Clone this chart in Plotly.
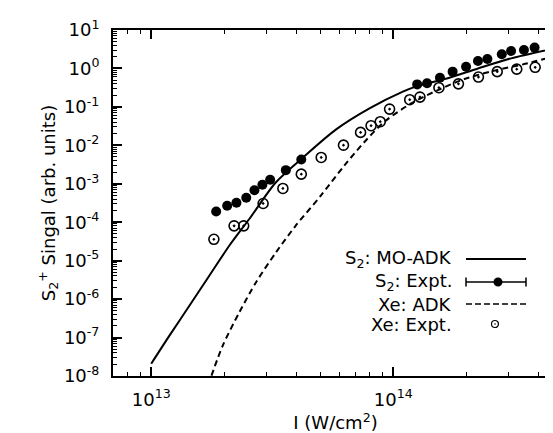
import plotly.graph_objects as go

# ---------------- data ----------------
s2_expt_I = [1.855e13, 2.06e13, 2.25e13, 2.47e13, 2.67e13, 2.88e13, 3.1e13, 3.6e13, 4.17e13,
             1.256e14, 1.38e14, 1.56e14, 1.76e14, 2.0e14, 2.24e14, 2.45e14, 2.81e14, 3.07e14,
             3.47e14, 3.84e14]
s2_expt_S = [1.9e-4, 2.67e-4, 3.2e-4, 4.35e-4, 6.8e-4, 9.4e-4, 1.27e-3, 2.26e-3, 4.3e-3,
             0.385, 0.41, 0.575, 0.826, 1.11, 1.56, 1.76, 2.33, 2.84, 3.01, 3.48]

xe_expt_I = [1.815e13, 2.2e13, 2.41e13, 2.9e13, 3.5e13, 4.17e13, 5.04e13, 6.23e13, 7.33e13,
             8.1e13, 8.84e13, 9.66e13, 1.17e14, 1.29e14, 1.545e14, 1.86e14, 2.25e14, 2.69e14,
             3.24e14, 3.86e14]
xe_expt_S = [3.6e-5, 8.05e-5, 8.05e-5, 3.07e-4, 7.55e-4, 1.78e-3, 4.84e-3, 1.01e-2, 2.17e-2,
             3.24e-2, 4.12e-2, 8.77e-2, 0.154, 0.18, 0.316, 0.397, 0.597, 0.826, 0.96, 1.07]

s2_adk_I = [1.0e13, 1.191e13, 1.442e13, 1.743e13, 2.108e13, 2.551e13, 3.27e13, 4.24e13, 5.81e13,
            7.98e13, 1.096e14, 1.265e14, 1.63e14, 2.24e14, 3.07e14, 4.8e14]
s2_adk_S = [2.09e-8, 1.14e-7, 6.9e-7, 4.17e-6, 2.52e-5, 1.25e-4, 1.08e-3, 4.84e-3, 2.6e-2,
            9.14e-2, 0.249, 0.352, 0.53, 1.0, 1.83, 3.48]

xe_adk_I = [1.774e13, 1.977e13, 2.317e13, 2.716e13, 3.288e13, 3.93e13, 5.04e13, 6.3e13, 7.62e13,
            9.2e13, 1.186e14, 1.53e14, 1.97e14, 2.62e14, 3.6e14, 4.8e14]
xe_adk_S = [1.02e-8, 6.27e-8, 4.65e-7, 2.8e-6, 1.69e-5, 7.73e-5, 5.05e-4, 3.05e-3, 1.24e-2,
            4.12e-2, 0.123, 0.274, 0.53, 0.877, 1.36, 2.23]

y_tickvals = [1e-8, 1e-7, 1e-6, 1e-5, 1e-4, 1e-3, 1e-2, 1e-1, 1e0, 1e1]
y_ticktext = ["10<sup>-8</sup>", "10<sup>-7</sup>", "10<sup>-6</sup>", "10<sup>-5</sup>",
              "10<sup>-4</sup>", "10<sup>-3</sup>", "10<sup>-2</sup>", "10<sup>-1</sup>",
              "10<sup>0</sup>", "10<sup>1</sup>"]
x_tickvals = [1e13, 1e14]
x_ticktext = ["10<sup>13</sup>", "10<sup>14</sup>"]

legend_labels = ["S<sub>2</sub>: MO-ADK", "S<sub>2</sub>: Expt.", "Xe: ADK", "Xe: Expt."]

# ---------------- figure ----------------
FONT = "DejaVu Sans, Liberation Sans, Arial, sans-serif"
FS = 18
W, H = 553, 433
L, R, T, B = 105, 3, 22, 65
PW, PH = W - L - R, H - T - B

fig = go.Figure()
fig.add_trace(go.Scatter(x=s2_adk_I, y=s2_adk_S, mode="lines",
                         line=dict(color="black", width=2, shape="spline", smoothing=0.8),
                         name=legend_labels[0], showlegend=False))
fig.add_trace(go.Scatter(x=xe_adk_I, y=xe_adk_S, mode="lines",
                         line=dict(color="black", width=2, dash="6px,4px", shape="spline", smoothing=0.8),
                         name=legend_labels[2], showlegend=False))
fig.add_trace(go.Scatter(x=s2_expt_I, y=s2_expt_S, mode="markers",
                         marker=dict(symbol="circle", size=10, color="black"),
                         name=legend_labels[1], showlegend=False))
fig.add_trace(go.Scatter(x=xe_expt_I, y=xe_expt_S, mode="markers",
                         marker=dict(symbol="circle-open-dot", size=10, color="black", line=dict(width=1.6)),
                         name=legend_labels[3], showlegend=False))

# manual legend (text left of sample, as in the original)
def px(x):
    return (x - L) / PW

def py(y):
    return (H - B - y) / PH

rows_y = [251, 274, 296, 316]
text_x = 446
for lab, yy in zip(legend_labels, rows_y):
    fig.add_annotation(x=px(text_x), y=py(yy), xref="paper", yref="paper", text=lab, showarrow=False,
                       xanchor="right", yanchor="middle", font=dict(family=FONT, size=FS, color="black"))

lx0, lx1 = px(458), px(518)
fig.add_shape(type="line", xref="paper", yref="paper", x0=lx0, x1=lx1, y0=py(rows_y[0]), y1=py(rows_y[0]),
              line=dict(color="black", width=2))
fig.add_shape(type="line", xref="paper", yref="paper", x0=lx0, x1=lx1, y0=py(rows_y[1]), y1=py(rows_y[1]),
              line=dict(color="black", width=1.5))
for cx in (lx0, lx1):
    fig.add_shape(type="line", xref="paper", yref="paper", x0=cx, x1=cx,
                  y0=py(rows_y[1] - 4.5), y1=py(rows_y[1] + 4.5), line=dict(color="black", width=1.5))
fig.add_shape(type="circle", xref="paper", yref="paper", xsizemode="pixel", ysizemode="pixel",
              xanchor=px(490), yanchor=py(rows_y[1]), x0=-4.5, x1=4.5, y0=-4.5, y1=4.5,
              fillcolor="black", line=dict(color="black", width=0))
fig.add_shape(type="line", xref="paper", yref="paper", x0=lx0, x1=lx1, y0=py(rows_y[2]), y1=py(rows_y[2]),
              line=dict(color="black", width=1.5, dash="6px,3px"))
fig.add_shape(type="circle", xref="paper", yref="paper", xsizemode="pixel", ysizemode="pixel",
              xanchor=px(487), yanchor=py(rows_y[3]), x0=-3.5, x1=3.5, y0=-3.5, y1=3.5,
              fillcolor="white", line=dict(color="black", width=1.2))
fig.add_shape(type="circle", xref="paper", yref="paper", xsizemode="pixel", ysizemode="pixel",
              xanchor=px(487), yanchor=py(rows_y[3]), x0=-0.8, x1=0.8, y0=-0.8, y1=0.8,
              fillcolor="black", line=dict(color="black", width=0))

axis_common = dict(type="log", showgrid=False, zeroline=False, showline=True, linecolor="black", linewidth=2,
                   mirror="allticks", ticks="inside", tickcolor="black", tickwidth=1.5,
                   tickfont=dict(family=FONT, size=FS, color="black"),
                   minor=dict(ticks="inside", ticklen=4, tickwidth=1, tickcolor="black", dtick="D1", showgrid=False))

fig.update_xaxes(**axis_common, range=[12.842, 14.681], tickvals=x_tickvals, ticktext=x_ticktext, ticklen=9,
                 ticklabelstandoff=6,
                 title=dict(text="I (W/cm<sup>2</sup>)", font=dict(family=FONT, size=FS, color="black"), standoff=2))
fig.update_yaxes(**axis_common, range=[-8, 1], tickvals=y_tickvals, ticktext=y_ticktext, ticklen=9,
                 ticklabelstandoff=8,
                 title=dict(text="S<sub>2</sub><sup>+</sup> Singal (arb. units)",
                            font=dict(family=FONT, size=FS, color="black"), standoff=4))

fig.update_layout(width=W, height=H, margin=dict(l=L, r=R, t=T, b=B, autoexpand=False),
                  plot_bgcolor="white", paper_bgcolor="white", showlegend=False,
                  font=dict(family=FONT, color="black"))

fig.write_html("out.html")
